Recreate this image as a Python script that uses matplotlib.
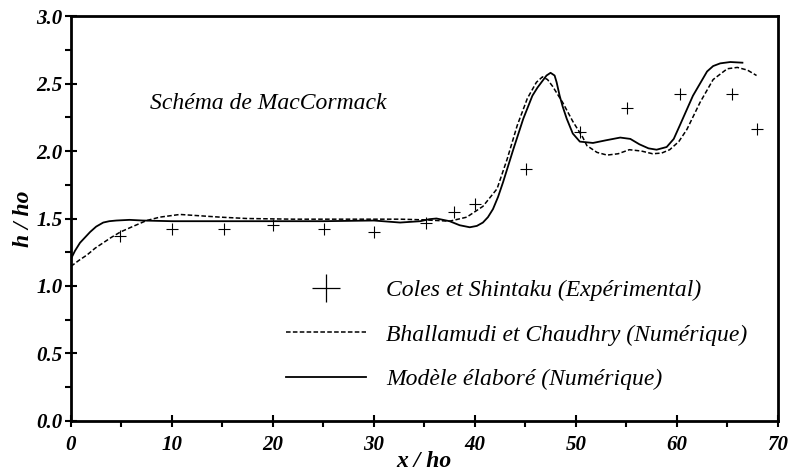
import matplotlib
matplotlib.use("Agg")
import matplotlib.pyplot as plt
from matplotlib.ticker import MultipleLocator

plt.rcParams["font.family"] = ["Liberation Serif", "DejaVu Serif"]

# Coles et Shintaku (experimental)
exp_x = [4.85, 10, 15.2, 20, 25.1, 30, 35.2, 37.9, 40, 45.1, 50.4, 55.1, 60.3, 65.5, 67.9]
exp_y = [1.37, 1.42, 1.42, 1.45, 1.42, 1.40, 1.47, 1.55, 1.61, 1.87, 2.14, 2.32, 2.42, 2.42, 2.16]

# Bhallamudi et Chaudhry (numerique)
bc_x = [0, 0.8, 1.6, 2.4, 3.2, 4.0, 4.9, 6.1, 7.5, 8.8, 10.8, 12.8, 14.8, 17.4, 22, 27, 32.6,
        35, 37.5, 39.2, 40.8, 42.2, 43.2, 44.2, 45.2, 46.1, 46.7, 47.2, 47.7, 48.7, 49.7,
        50.7, 51.1, 52.1, 53.1, 54.2, 55.3, 56.5, 57.6, 58.5, 59.3, 60.2, 61, 62.3, 63.6,
        65, 66, 67, 67.9]
bc_y = [1.145, 1.19, 1.23, 1.28, 1.32, 1.36, 1.40, 1.44, 1.485, 1.51, 1.53, 1.52, 1.51, 1.50,
        1.495, 1.495, 1.495, 1.49, 1.48, 1.51, 1.59, 1.72, 1.94, 2.19, 2.39, 2.51, 2.55, 2.53,
        2.48, 2.36, 2.22, 2.10, 2.04, 1.99, 1.97, 1.98, 2.01, 2.0, 1.98, 1.985, 2.01, 2.07,
        2.16, 2.36, 2.53, 2.61, 2.62, 2.60, 2.56]

# Modele elabore (numerique)
me_x = [0, 0.4, 0.9, 1.4, 1.9, 2.5, 3.2, 3.8, 4.5, 5.8, 7.1, 10, 15, 20, 25, 30, 32.6, 34.6,
        35.5, 36.2, 37.5, 38.5, 39.5, 40.2, 40.8, 41.3, 41.8, 42.3, 42.8, 43.8, 44.8, 45.7,
        46.2, 46.7, 47.1, 47.5, 47.9, 48.1, 48.4, 48.7, 49.1, 49.7, 50.4, 51.7, 53, 54.4,
        55.4, 56.3, 57.2, 58, 59, 59.7, 60.3, 61.6, 63, 63.6, 64.3, 65.3, 66.5]
me_y = [1.20, 1.26, 1.32, 1.36, 1.40, 1.44, 1.47, 1.48, 1.485, 1.49, 1.485, 1.48, 1.48, 1.48,
        1.48, 1.485, 1.47, 1.48, 1.495, 1.50, 1.48, 1.45, 1.435, 1.445, 1.47, 1.51, 1.57,
        1.66, 1.77, 2.01, 2.24, 2.41, 2.47, 2.52, 2.56, 2.58, 2.56, 2.51, 2.41, 2.33, 2.24,
        2.13, 2.07, 2.06, 2.08, 2.10, 2.09, 2.05, 2.02, 2.01, 2.03, 2.09, 2.19, 2.41, 2.59,
        2.63, 2.65, 2.66, 2.655]

fig = plt.figure(figsize=(7.88, 4.75), dpi=100)
ax = fig.add_axes([0.090, 0.114, 0.897, 0.852])

ax.plot(exp_x, exp_y, ls="none", marker="+", color="k", ms=8, mew=0.8)
ax.plot(bc_x, bc_y, ls=(0, (3, 1.5)), color="k", lw=1.1)
ax.plot(me_x, me_y, ls="-", color="k", lw=1.3)

# legend entries (proxies)
h1, = ax.plot([], [], ls="none", marker="+", color="k", ms=20, mew=0.9)
h2, = ax.plot([], [], ls=(0, (3, 1.5)), color="k", lw=1.1)
h3, = ax.plot([], [], ls="-", color="k", lw=1.3)
ax.legend([h1, h2, h3],
          ["Coles et Shintaku (Expérimental)",
           "Bhallamudi et Chaudhry (Numérique)",
           "Modèle élaboré (Numérique)"],
          loc="upper left", bbox_to_anchor=(0.287, 0.378), frameon=False,
          prop={"style": "italic", "size": 17}, handlelength=3.4,
          handletextpad=0.85, labelspacing=0.97, borderpad=0)

ax.text(7.8, 2.31, "Schéma de MacCormack", style="italic", fontsize=17)

ax.set_xlim(0, 70)
ax.set_ylim(0, 3.0)
ax.xaxis.set_major_locator(MultipleLocator(10))
ax.xaxis.set_minor_locator(MultipleLocator(5))
ax.yaxis.set_major_locator(MultipleLocator(0.5))
ax.yaxis.set_minor_locator(MultipleLocator(0.25))
ax.set_xticklabels([f"{v:g}" for v in ax.get_xticks()])
ax.set_yticklabels([f"{v:.1f}" for v in ax.get_yticks()])
ax.tick_params(which="major", direction="inout", length=8, width=1.5, labelsize=15)
ax.tick_params(axis="x", which="major", pad=6)
ax.tick_params(axis="y", which="major", pad=2)
ax.tick_params(which="minor", direction="out", length=4, width=1.5)
ax.tick_params(top=False, right=False, which="both")
for lab in ax.get_xticklabels() + ax.get_yticklabels():
    lab.set_fontweight("bold")
    lab.set_fontstyle("italic")

for sp in ax.spines.values():
    sp.set_linewidth(2)

ax.set_xlabel("x / ho", fontsize=17, fontweight="bold", style="italic", labelpad=-3)
ax.set_ylabel("h / ho", fontsize=17, fontweight="bold", style="italic", labelpad=2)

fig.savefig("out.png", dpi=100)
